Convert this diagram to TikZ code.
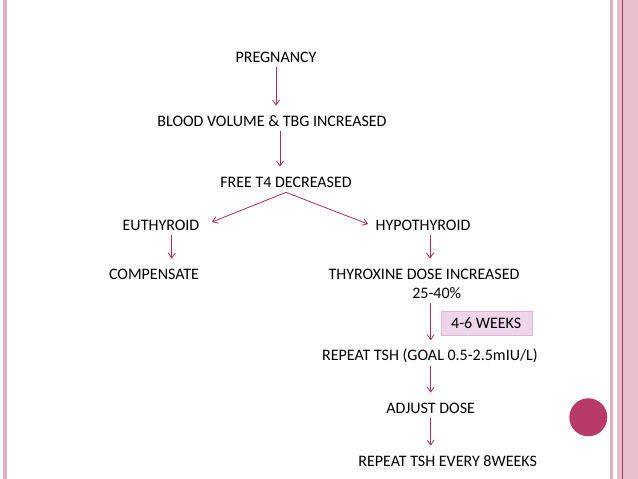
\documentclass[tikz,border=0pt]{standalone}
\usepackage{fontspec}
\setmainfont{Carlito}
\usetikzlibrary{arrows.meta, positioning}
\definecolor{arrowred}{HTML}{A0305A}
\definecolor{bandpink}{HTML}{E6BECC}
\definecolor{linepink}{HTML}{DBB0C2}
\definecolor{darkline}{HTML}{A33A62}
\definecolor{dotred}{HTML}{B83A68}
\definecolor{boxfill}{HTML}{EFD5EA}
\definecolor{boxline}{HTML}{D9B6D1}

\begin{document}
\begin{tikzpicture}[
        x=1pt, y=-1pt,
        >={Straight Barb[length=5pt, width=7pt]},
        step box/.style={
            inner sep=5pt,
            text height=10.3pt,
            text depth=0pt
        },
        week box/.style={
            draw=boxline,
            fill=boxfill,
            minimum width=91pt,
            minimum height=24.3pt,
            inner sep=0pt
        },
        arr/.style={
            ->,
            color=arrowred,
            line width=0.8pt,
            shorten >=5pt
        },
        every node/.style={font=\fontsize{16}{19}\selectfont}
    ]

        % frame of the slide
        \useasboundingbox (0,0) rectangle (638,479);
        \fill[white] (0,0) rectangle (638,479);
        \fill[linepink] (3.3,0) rectangle (7.3,479);
        \fill[linepink] (610,0) rectangle (612.7,479);
        \fill[bandpink] (616.5,0) rectangle (638,479);
        \fill[darkline] (621.7,0) rectangle (622.9,479);
        \fill[dotred] (588.3,417.3) circle (19);

        \node[step box] (pregnancy) at (276,57) {PREGNANCY};
        \node[step box] (blood) at (272,121) {BLOOD VOLUME \& TBG INCREASED};
        \node[step box] (freet4) at (286,182) {FREE T4 DECREASED};
        \node[step box] (euthyroid) at (161,225) {EUTHYROID};
        \node[step box] (hypothyroid) at (423,225) {HYPOTHYROID};
        \node[step box] (compensate) at (154,274) {COMPENSATE};
        \node[step box] (thyroxine) at (424,274) {THYROXINE DOSE INCREASED};
        \node[step box] (percent) at (436.7,293) {25-40\%};
        \node[week box] (weeks) at (486.2,322.9) {4-6 WEEKS};
        \node[step box] (repeattsh) at (430,355.7) {REPEAT TSH (GOAL 0.5-2.5mIU/L)};
        \node[step box] (adjust) at (430.7,408) {ADJUST DOSE};
        \node[step box] (repeatevery) at (447.7,461) {REPEAT TSH EVERY 8WEEKS};

        \draw[arr] (pregnancy.south) -- (pregnancy.south |- blood.north);
        \draw[arr] ([xshift=8pt]blood.south) -- ([xshift=-6pt]freet4.north);
        \draw[arr, shorten >=8pt] (freet4.south) -- (euthyroid.east);
        \draw[arr, shorten >=2.5pt] (freet4.south) -- (hypothyroid.west);
        \draw[arr] ([xshift=10.7pt]euthyroid.south) -- ([xshift=17.7pt]compensate.north);
        \draw[arr] ([xshift=7pt]hypothyroid.south) -- ([xshift=6pt]thyroxine.north);
        \draw[arr] ([xshift=-6pt]percent.south) -- ([xshift=0.7pt]repeattsh.north);
        \draw[arr] ([xshift=0.7pt]repeattsh.south) -- (adjust.north);
        \draw[arr] (adjust.south) -- ([xshift=-17pt]repeatevery.north);

    \end{tikzpicture}
\end{document}
